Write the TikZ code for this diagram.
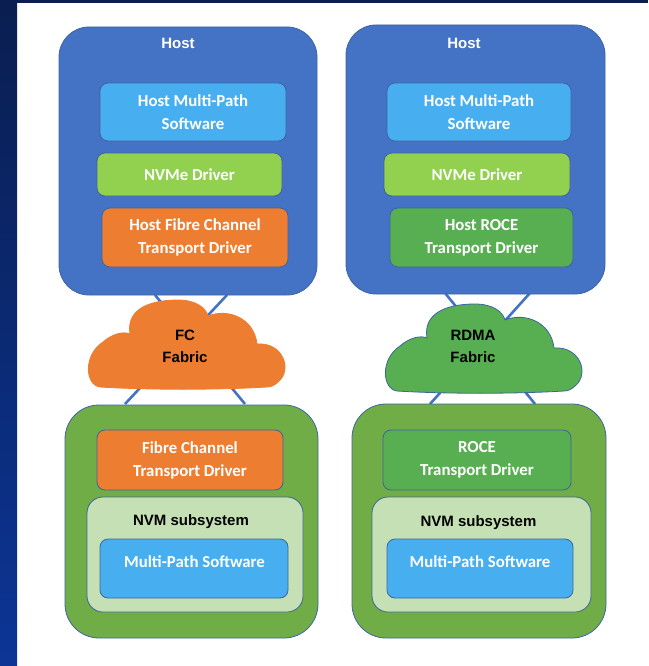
\documentclass[tikz,border=0pt]{standalone}
\usepackage{fontspec}
\setmainfont{Carlito}
\newfontfamily\arialfont{Liberation Sans}
\usetikzlibrary{backgrounds}

\definecolor{hostblue}{HTML}{4472C4}
\definecolor{edgeblue}{HTML}{3E64A0}
\definecolor{skyblue}{HTML}{47AFEF}
\definecolor{nvmegreen}{HTML}{92D050}
\definecolor{fcorange}{HTML}{ED7D31}
\definecolor{rocegreen}{HTML}{58AF52}
\definecolor{outergreen}{HTML}{70AD47}
\definecolor{nvmpale}{HTML}{C5E0B4}
\definecolor{navytop}{HTML}{0A1E50}
\definecolor{navybot}{HTML}{0C3596}

\tikzset{
  frame/.style={draw=edgeblue, line width=0.8pt, inner sep=0pt},
  layer/.style={frame, rounded corners=8pt, text=white, align=center,
    font=\fontsize{16.8}{23}\selectfont\bfseries},
  tag/.style={inner sep=0pt, align=center,
    font=\arialfont\fontsize{15}{22}\selectfont\bfseries},
  link/.style={draw=hostblue, line width=2.6pt},
  fabric/.pic={
    \path[pic actions] (12,87) .. controls (-3,85) and (-5,55) .. (15,42)
      .. controls (24,34) and (35,31) .. (42,34)
      .. controls (38,10) and (60,0) .. (90,0)
      .. controls (108,0) and (118,8) .. (120,16)
      .. controls (140,8) and (166,18) .. (169,44)
      .. controls (195,42) and (205,70) .. (190,82)
      .. controls (186,86) and (182,87) .. (179,87)
      .. controls (130,90) and (60,90) .. cycle;
  }
}

\begin{document}
\begin{tikzpicture}[x=1pt,y=-1pt]
\useasboundingbox (0,0) rectangle (648,666);

% hosts
\node[frame, fill=hostblue, rounded corners=30pt, minimum width=258pt, minimum height=268pt] (hostl) at (188,161) {};
\node[frame, fill=hostblue, rounded corners=30pt, minimum width=259pt, minimum height=269pt] (hostr) at (475.5,159.5) {};
\node[tag, text=white] (hostlt) at (178,43) {Host};
\node[tag, text=white] (hostrt) at (464,43) {Host};

\node[layer, fill=skyblue, minimum width=186pt, minimum height=58pt] (mpl) at (193,112) {Host Multi-Path\\Software};
\node[layer, fill=nvmegreen, minimum width=185pt, minimum height=43pt] (nvmel) at (189.5,174.5) {NVMe Driver};
\node[layer, fill=fcorange, minimum width=186pt, minimum height=59pt] (fchost) at (195,237.5) {Host Fibre Channel\\Transport Driver};

\node[layer, fill=skyblue, minimum width=184pt, minimum height=58pt] (mpr) at (479,112) {Host Multi-Path\\Software};
\node[layer, fill=nvmegreen, minimum width=186pt, minimum height=43pt] (nvmer) at (477,174.5) {NVMe Driver};
\node[layer, fill=rocegreen, minimum width=183pt, minimum height=59pt] (rocehost) at (481.5,237.5) {Host ROCE\\Transport Driver};

% targets
\node[frame, fill=outergreen, rounded corners=34pt, minimum width=253pt, minimum height=233pt] (tgtl) at (191.5,521.5) {};
\node[frame, fill=outergreen, rounded corners=34pt, minimum width=254pt, minimum height=234pt] (tgtr) at (479,521) {};

\node[layer, fill=fcorange, minimum width=186pt, minimum height=60pt] (fctgt) at (190,460) {Fibre Channel\\Transport Driver};
\node[frame, fill=nvmpale, rounded corners=16pt, minimum width=216pt, minimum height=115pt] (subl) at (195,554.5) {};
\node[tag] (sublt) at (191,522) {NVM subsystem};
\node[layer, fill=skyblue, minimum width=188pt, minimum height=59pt] (mptl) at (194,568.5) {};
\node[layer, draw=none, fill=none] (mptlt) at (194.5,562) {Multi-Path Software};

\node[layer, fill=rocegreen, minimum width=188pt, minimum height=60pt] (rocetgt) at (477,460) {ROCE\\Transport Driver};
\node[frame, fill=nvmpale, rounded corners=16pt, minimum width=219pt, minimum height=115pt] (subr) at (481.5,554.5) {};
\node[tag] (subrt) at (478.5,523) {NVM subsystem};
\node[layer, fill=skyblue, minimum width=186pt, minimum height=59pt] (mptr) at (480,568.5) {};
\node[layer, draw=none, fill=none] (mptrt) at (480,562) {Multi-Path Software};

% fabrics
\pic[fill=fcorange, draw=fcorange, line width=0.8pt] at (88,300) {fabric};
\pic[fill=rocegreen, draw=edgeblue, line width=0.8pt] at (385,304) {fabric};
\node[tag] (fcf) at (185,346) {FC\\Fabric};
\node[tag] (rdmaf) at (473,346) {RDMA\\Fabric};

% links
\coordinate (la) at (155,295);
\coordinate (lb) at (227,295);
\coordinate (lc) at (245,404);
\coordinate (ld) at (125,404);
\coordinate (ra) at (445,293);
\coordinate (rb) at (530,293);
\coordinate (rc) at (535,404);
\coordinate (rd) at (430,404);

\begin{scope}[on background layer]
\fill[white] (0,0) rectangle (648,666);
\shade[top color=navytop, bottom color=navybot] (0,0) rectangle (17,666);
\fill[navytop] (17,0) rectangle (648,3);
\draw[link] (la) -- (lc);
\draw[link] (lb) -- (ld);
\draw[link] (ra) -- (rc);
\draw[link] (rb) -- (rd);
\end{scope}
\end{tikzpicture}
\end{document}
